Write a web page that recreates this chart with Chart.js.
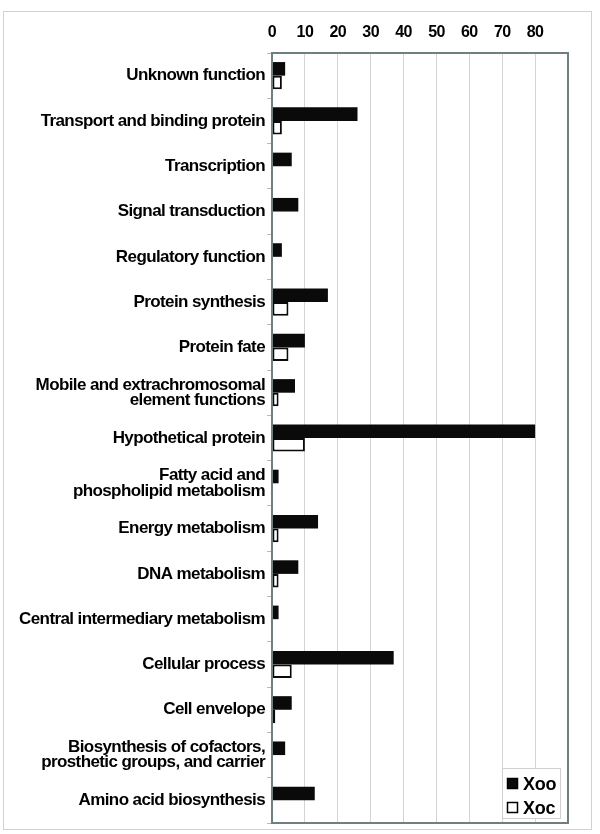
<!DOCTYPE html>
<html>
<head>
<meta charset="utf-8">
<script src="https://cdn.jsdelivr.net/npm/chart.js@4"></script>
<style>
  body { margin: 0; background: #fff; }
  #wrap { width: 600px; height: 834px; position: relative; }
</style>
</head>
<body>
<div id="wrap"><canvas id="funcChart"></canvas></div>
<script>
// functional categories, top to bottom
const categories = [
    "Unknown function",
    "Transport and binding protein",
    "Transcription",
    "Signal transduction",
    "Regulatory function",
    "Protein synthesis",
    "Protein fate",
    ["Mobile and extrachromosomal", "element functions"],
    "Hypothetical protein",
    ["Fatty acid and", "phospholipid metabolism"],
    "Energy metabolism",
    "DNA metabolism",
    "Central intermediary metabolism",
    "Cellular process",
    "Cell envelope",
    ["Biosynthesis of cofactors,", "prosthetic groups, and carrier"],
    "Amino acid biosynthesis"
];

const xooValues = [4, 26, 6, 8, 3, 17, 10, 7, 80, 2, 14, 8, 2, 37, 6, 4, 13];
const xocValues = [3, 3, 0, 0, 0, 5, 5, 2, 10, 0, 2, 2, 0, 6, 1, 0, 0];

const xTicks = [0, 10, 20, 30, 40, 50, 60, 70, 80];
const xMax = 90;

const FONT = "'Liberation Sans', Arial, sans-serif";

// light grey border around the whole figure, and tighter text tracking
const outerBorder = {
    id: 'outerBorder',
    beforeDraw(chart) {
        const ctx = chart.ctx;
        ctx.save();
        ctx.strokeStyle = '#d2d2d2';
        ctx.lineWidth = 1;
        ctx.strokeRect(3.5, 11.5, 588, 818);
        ctx.restore();
        ctx.letterSpacing = '-0.6px';
    },
    afterDraw(chart) {
        chart.ctx.letterSpacing = '0px';
    }
};

// frame round the plot area
const plotFrame = {
    id: 'plotFrame',
    afterDatasetsDraw(chart) {
        const a = chart.chartArea;
        const ctx = chart.ctx;
        ctx.save();
        ctx.strokeStyle = '#6f7f80';
        ctx.lineWidth = 2;
        ctx.strokeRect(a.left, a.top, a.right - a.left, a.bottom - a.top);
        ctx.restore();
    }
};

// legend box sitting inside the plot, bottom right
const insideLegend = {
    id: 'insideLegend',
    afterDraw(chart) {
        const ctx = chart.ctx;
        const a = chart.chartArea;
        const w = 58, h = 50;
        const x = a.right - 66, y = a.bottom - 55;
        ctx.save();
        ctx.letterSpacing = '-0.3px';
        ctx.fillStyle = '#fff';
        ctx.fillRect(x, y, w, h);
        ctx.strokeStyle = '#cfcfcf';
        ctx.lineWidth = 1;
        ctx.strokeRect(x + 0.5, y + 0.5, w, h);

        ctx.font = 'bold 18px ' + FONT;
        ctx.textBaseline = 'middle';
        chart.data.datasets.forEach((ds, i) => {
            const cy = y + 16 + i * 24;
            ctx.fillStyle = ds.backgroundColor;
            ctx.fillRect(x + 5, cy - 6, 11, 11);
            ctx.strokeStyle = '#000';
            ctx.lineWidth = 1.5;
            ctx.strokeRect(x + 5.5, cy - 5.5, 10, 10);
            ctx.fillStyle = '#000';
            ctx.fillText(ds.label, x + 21, cy + 1);
        });
        ctx.restore();
    }
};

new Chart(document.getElementById('funcChart'), {
    type: 'bar',
    data: {
        labels: categories,
        datasets: [
            {
                label: 'Xoo',
                data: xooValues,
                backgroundColor: '#0a0a0a',
                borderWidth: 0,
                categoryPercentage: 0.6,
                barPercentage: 1.0
            },
            {
                label: 'Xoc',
                data: xocValues,
                backgroundColor: '#ffffff',
                borderColor: '#0a0a0a',
                borderWidth: 2,
                borderSkipped: false,
                categoryPercentage: 0.6,
                barPercentage: 1.0
            }
        ]
    },
    options: {
        indexAxis: 'y',
        responsive: true,
        maintainAspectRatio: false,
        animation: false,
        layout: { padding: { top: 12, right: 32, bottom: 11, left: 0 } },
        plugins: {
            legend: { display: false },
            tooltip: { enabled: false }
        },
        scales: {
            x: {
                position: 'top',
                min: 0,
                max: xMax,
                afterBuildTicks: (scale) => {
                    scale.ticks = xTicks.concat([xMax]).map(v => ({ value: v }));
                },
                afterFit: (scale) => { scale.height = 41; },
                ticks: {
                    color: '#000',
                    padding: 11,
                    font: { family: FONT, size: 16, weight: 'bold' },
                    callback: (v) => xTicks.includes(v) ? v : ''
                },
                grid: { color: '#d4d4d4', lineWidth: 1, drawTicks: false },
                border: { display: false }
            },
            y: {
                afterFit: (scale) => { scale.width = 272; },
                ticks: {
                    color: '#000',
                    padding: 2,
                    font: { family: FONT, size: 17, weight: 'bold', lineHeight: 0.9 }
                },
                grid: {
                    drawOnChartArea: false,
                    drawTicks: true,
                    tickLength: 5,
                    color: '#b8b8b8'
                },
                border: { display: false }
            }
        }
    },
    plugins: [outerBorder, plotFrame, insideLegend]
});
</script>
</body>
</html>
